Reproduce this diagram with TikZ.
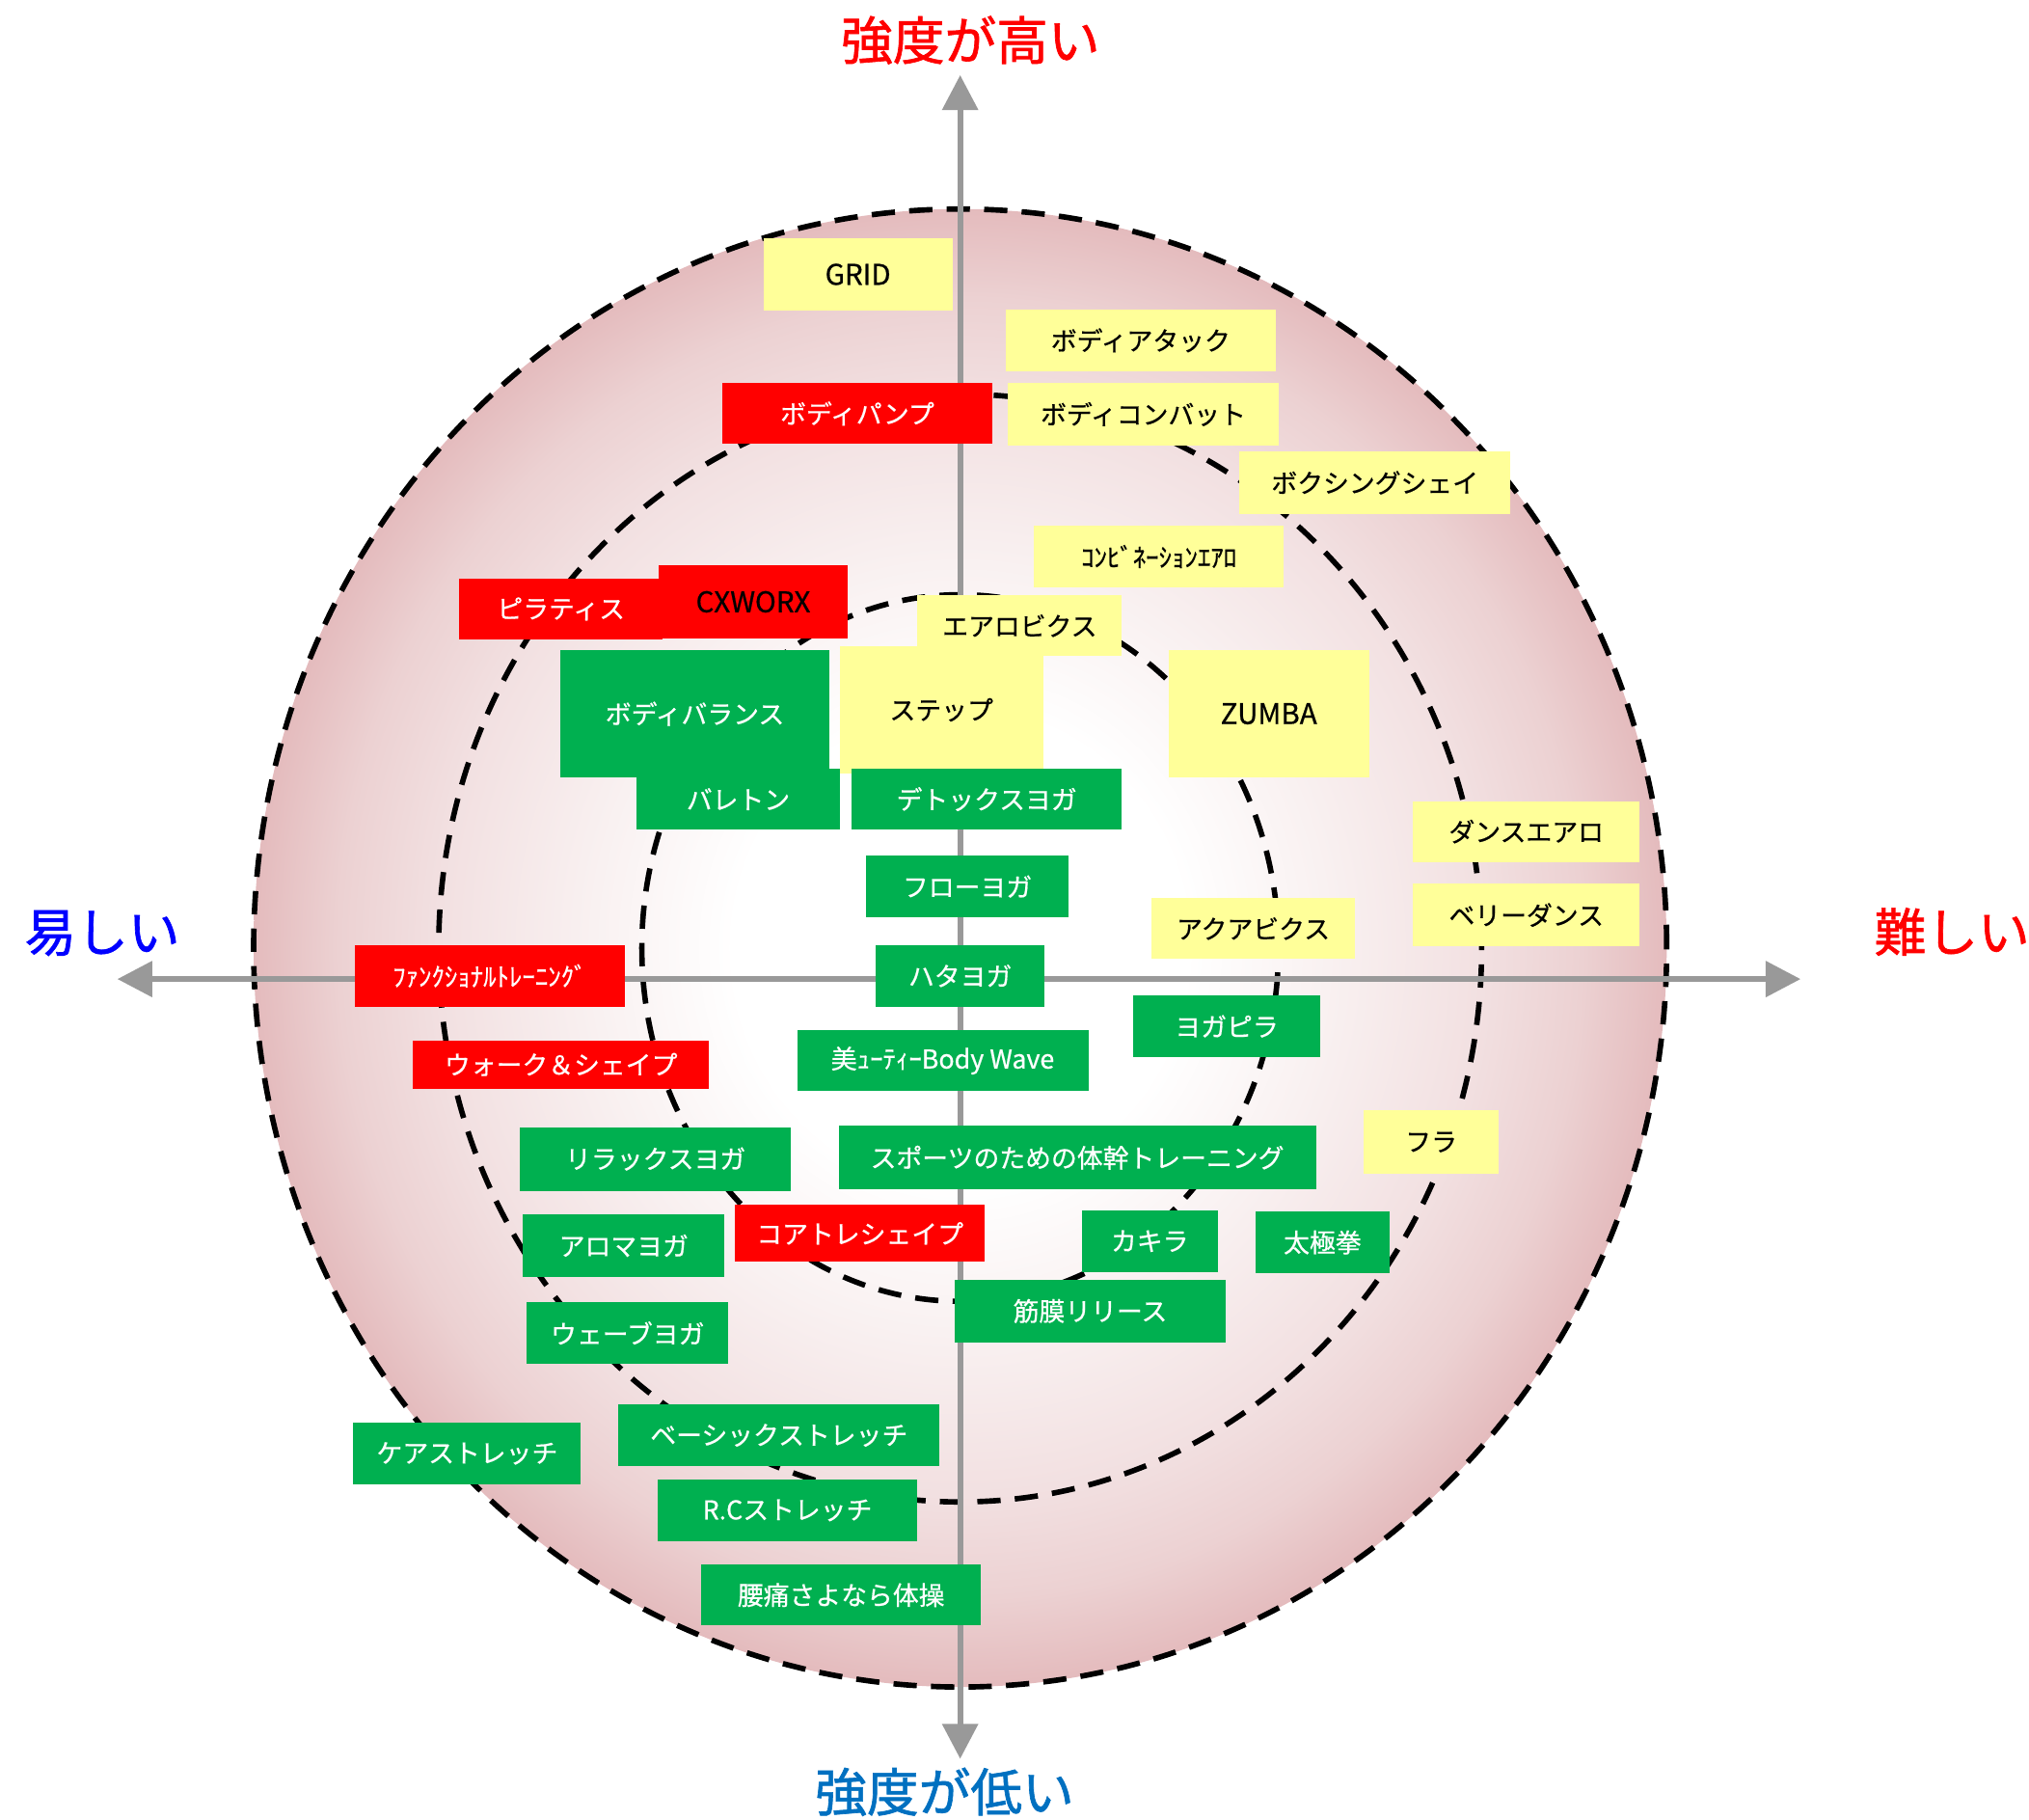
\documentclass[tikz,border=0pt]{standalone}
\usepackage{fontspec}
\setmainfont{Noto Sans CJK JP}[FakeBold=0.6]
\newfontfamily\labelfont{Noto Sans CJK JP}[FakeBold=1.2]
\usetikzlibrary{arrows.meta}
\definecolor{yel}{RGB}{255,255,153}
\definecolor{grn}{RGB}{0,176,80}
\definecolor{rd}{RGB}{255,0,0}
\definecolor{axgray}{RGB}{153,153,153}
\definecolor{pinkA}{RGB}{249,241,241}
\definecolor{pinkB}{RGB}{242,224,225}
\definecolor{pinkD}{RGB}{236,209,210}
\definecolor{pinkC}{RGB}{228,187,189}
\definecolor{easyblue}{RGB}{0,0,255}
\definecolor{lowblue}{RGB}{0,112,192}
\pgfdeclareradialshading{bgshade}{\pgfpoint{0bp}{0bp}}{color(0bp)=(white); color(8bp)=(white); color(13bp)=(pinkA); color(18.5bp)=(pinkB); color(22bp)=(pinkD); color(25bp)=(pinkC); color(50bp)=(pinkC)}
\newcommand{\placebox}[7]{\node[#6, minimum width={#4-#2}, minimum height={#5-#3}] (#1) at ({(#2+#4)/2},{(#3+#5)/2}) {#7};}
\tikzset{
  box/.style={rectangle, inner sep=0pt, outer sep=0pt, font=\fontsize{20}{24}\selectfont},
  ybox/.style={box, fill=yel, text=black},
  rbox/.style={box, fill=rd, text=white},
  gbox/.style={box, fill=grn, text=white},
  latin/.style={font=\fontsize{22}{26}\selectfont},
  ring/.style={draw=black, line width=4.2pt, dash pattern=on 18pt off 11pt},
  axisline/.style={draw=axgray, line width=4.5pt, {Triangle[length=27pt,width=27pt]}-{Triangle[length=27pt,width=27pt]}},
  biglabel/.style={font=\labelfont\fontsize{40}{48}\selectfont, inner sep=0pt}
}
\begin{document}
\begin{tikzpicture}[x=1pt,y=-1pt]
\useasboundingbox (0,0) rectangle (1568,1406);
% background disc
\shade[shading=bgshade] (742,732.5) ellipse [x radius=546pt, y radius=571pt];
\draw[ring] (742,732.5) ellipse [x radius=546pt, y radius=571pt];
\draw[ring] (742,732.5) ellipse [x radius=403pt, y radius=428pt];
\draw[ring] (742,732.5) ellipse [x radius=246pt, y radius=273pt];
% axes
\coordinate (axL) at (90.7,756.5);
\coordinate (axR) at (1391.5,756.5);
\coordinate (axT) at (742,58);
\coordinate (axB) at (742,1359);
\draw[axisline] (axL) -- (axR);
\draw[axisline] (axB) -- (axT);
% boxes
\placebox{grid}{590}{184}{736}{240}{ybox,latin}{GRID}
\placebox{attack}{777}{239}{986}{287}{ybox}{ボディアタック}
\placebox{combat}{779}{296}{988}{344}{ybox}{ボディコンバット}
\placebox{pump}{558}{296}{767}{343}{rbox}{ボディパンプ}
\placebox{boxing}{958}{349}{1167}{397}{ybox}{ボクシングシェイ}
\placebox{combi}{799}{406}{992}{454}{ybox}{ｺﾝﾋﾞﾈｰｼｮﾝｴｱﾛ}
\placebox{pilates}{355}{447}{512}{494}{rbox}{ピラティス}
\placebox{cxworx}{509}{437}{655}{493}{rbox,latin,text=black}{CXWORX}
\placebox{aero}{709}{460}{867}{507}{ybox}{エアロビクス}
\placebox{step}{649}{499}{806}{598}{ybox}{ステップ}
\placebox{zumba}{903}{502}{1058}{601}{ybox,latin}{ZUMBA}
\placebox{balance}{433}{502}{641}{601}{gbox}{ボディバランス}
\placebox{barre}{492}{594}{649}{641}{gbox}{バレトン}
\placebox{detox}{658}{594}{867}{641}{gbox}{デトックスヨガ}
\placebox{dance}{1092}{619}{1267}{666}{ybox}{ダンスエアロ}
\placebox{flow}{669}{661}{826}{709}{gbox}{フローヨガ}
\placebox{belly}{1092}{683}{1267}{731}{ybox}{ベリーダンス}
\placebox{aqua}{890}{694}{1047}{741}{ybox}{アクアビクス}
\placebox{func}{274}{730}{483}{778}{rbox}{ﾌｧﾝｸｼｮﾅﾙﾄﾚｰﾆﾝｸﾞ}
\placebox{hatha}{677}{730}{807}{778}{gbox}{ハタヨガ}
\placebox{yogapi}{876}{769}{1020}{817}{gbox}{ヨガピラ}
\placebox{beauty}{616}{796}{841}{843}{gbox}{美ｭｰﾃｨｰBody Wave}
\placebox{walk}{319}{804}{548}{841}{rbox}{ウォーク＆シェイプ}
\placebox{hula}{1054}{858}{1158}{907}{ybox}{フラ}
\placebox{relax}{402}{871}{611}{920}{gbox}{リラックスヨガ}
\placebox{sports}{648}{870}{1017}{919}{gbox}{スポーツのための体幹トレーニング}
\placebox{core}{568}{931}{761}{975}{rbox}{コアトレシェイプ}
\placebox{kakira}{836}{935}{941}{983}{gbox}{カキラ}
\placebox{taichi}{970}{936}{1074}{984}{gbox}{太極拳}
\placebox{aroma}{404}{938}{560}{987}{gbox}{アロマヨガ}
\placebox{fascia}{738}{989}{947}{1037}{gbox}{筋膜リリース}
\placebox{wave}{407}{1006}{563}{1054}{gbox}{ウェーブヨガ}
\placebox{basic}{478}{1085}{726}{1133}{gbox}{ベーシックストレッチ}
\placebox{care}{273}{1099}{449}{1147}{gbox}{ケアストレッチ}
\placebox{rc}{508}{1143}{709}{1191}{gbox}{R.Cストレッチ}
\placebox{back}{542}{1209}{758}{1256}{gbox}{腰痛さよなら体操}
% axis labels
\node[biglabel, text=rd] (high) at (750,31) {強度が高い};
\node[biglabel, text=lowblue] (low) at (730,1384.5) {強度が低い};
\node[biglabel, text=easyblue] (easy) at (79,721) {易しい};
\node[biglabel, text=rd] (hard) at (1508.5,720) {難しい};
\end{tikzpicture}
\end{document}
